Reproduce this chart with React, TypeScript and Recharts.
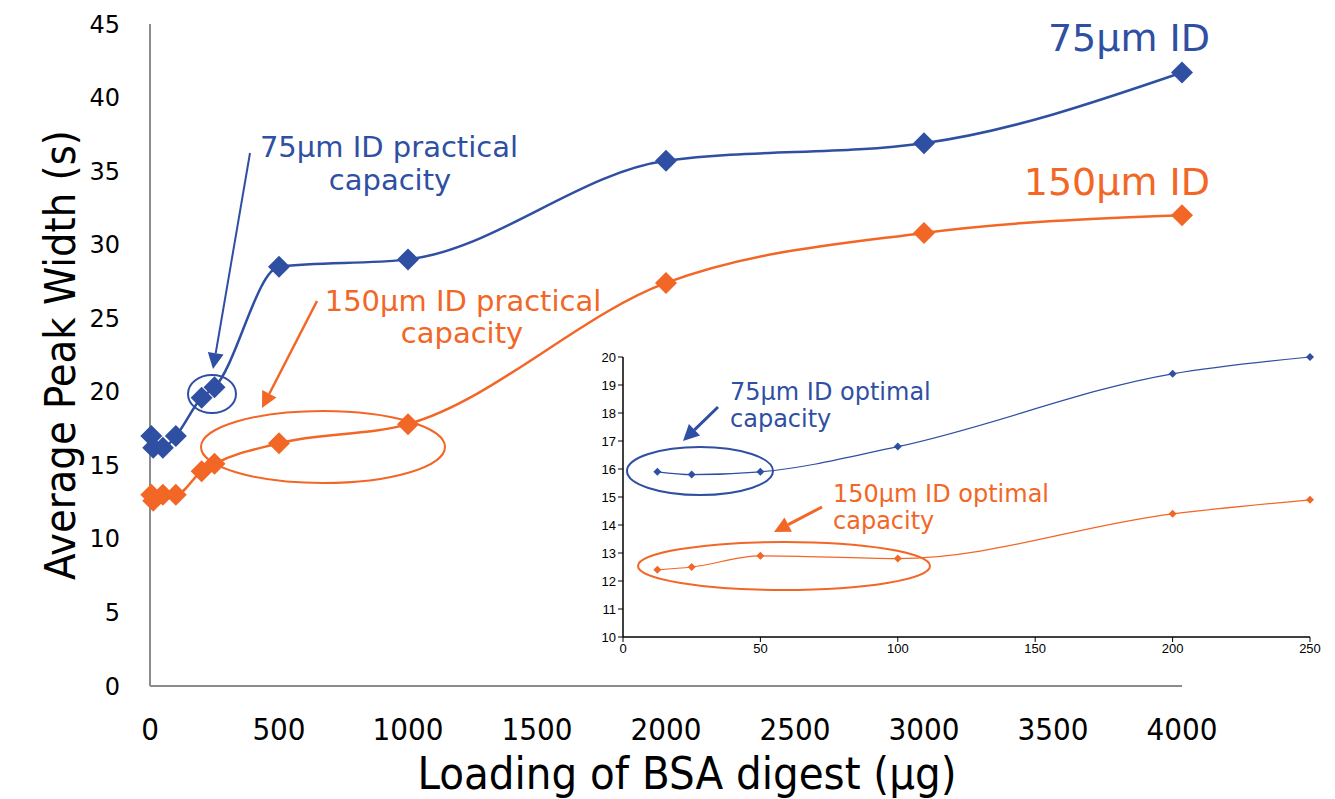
import React from "react";
import { LineChart, Line, XAxis, YAxis } from "recharts";

// Main chart: average peak width vs BSA digest load
const loads75 = [5, 12.5, 50, 100, 200, 250, 500, 1000, 2000, 3000, 4000];
const width75 = [17.0, 16.2, 16.2, 17.0, 19.6, 20.3, 28.5, 29.0, 35.7, 36.9, 41.7];
const loads150 = [5, 12.5, 50, 100, 200, 250, 500, 1000, 2000, 3000, 4000];
const width150 = [13.0, 12.6, 13.0, 13.0, 14.6, 15.1, 16.5, 17.8, 27.4, 30.8, 32.0];
const mainXTicks = [0, 500, 1000, 1500, 2000, 2500, 3000, 3500, 4000];
const mainYTicks = [0, 5, 10, 15, 20, 25, 30, 35, 40, 45];

// Inset: optimal capacity region (low loads)
const insetLoads = [12.5, 25, 50, 100, 200, 250];
const inset75 = [15.9, 15.8, 15.9, 16.8, 19.4, 20.0];
const inset150 = [12.4, 12.5, 12.9, 12.8, 14.4, 14.9];
const insetXTicks = [0, 50, 100, 150, 200, 250];
const insetYTicks = [10, 11, 12, 13, 14, 15, 16, 17, 18, 19, 20];

const BLUE = "#2f4fa3";
const ORANGE = "#f26626";
const AXIS_GRAY = "#8c8c8c";
const NARROW = "'Liberation Sans Narrow', 'DejaVu Sans Condensed', Arial, sans-serif";
const VERDANA = "'DejaVu Sans', Verdana, sans-serif";

const pairs = (xs: number[], ys: number[]) => xs.map((x, i) => ({ x, y: ys[i] }));

const data75 = pairs(loads75, width75);
const data150 = pairs(loads150, width150);
const insetData75 = pairs(insetLoads, inset75);
const insetData150 = pairs(insetLoads, inset150);

function diamond(r: number, color: string) {
    return (props: any) => {
        const { cx, cy, index } = props;
        if (cx == null || cy == null) return <g key={index} />;
        return (
            <polygon
                key={index}
                points={`${cx},${cy - r} ${cx + r},${cy} ${cx},${cy + r} ${cx - r},${cy}`}
                fill={color}
            />
        );
    };
}

function Arrow({ x1, y1, x2, y2, color, w, head }: any) {
    const dx = x2 - x1;
    const dy = y2 - y1;
    const len = Math.sqrt(dx * dx + dy * dy);
    const ux = dx / len;
    const uy = dy / len;
    const bx = x2 - ux * head;
    const by = y2 - uy * head;
    const hw = head * 0.5;
    return (
        <g>
            <line x1={x1} y1={y1} x2={bx} y2={by} stroke={color} strokeWidth={w} />
            <polygon
                points={`${x2},${y2} ${bx - uy * hw},${by + ux * hw} ${bx + uy * hw},${by - ux * hw}`}
                fill={color}
            />
        </g>
    );
}

export default function App() {
    return (
        <div style={{ position: "absolute", left: 0, top: 0, width: 1335, height: 799, background: "#fff" }}>
            {/* main chart */}
            <div style={{ position: "absolute", left: 0, top: 0 }}>
                <LineChart width={1335} height={799} margin={{ top: 24, right: 153, bottom: 0, left: 0 }}>
                    <XAxis
                        type="number"
                        dataKey="x"
                        domain={[0, 4000]}
                        ticks={mainXTicks}
                        height={113}
                        axisLine={{ stroke: AXIS_GRAY, strokeWidth: 2 }}
                        tickLine={false}
                        tick={{ fill: "#000", fontSize: 31, fontFamily: NARROW }}
                        tickMargin={26}
                    />
                    <YAxis
                        type="number"
                        dataKey="y"
                        domain={[0, 45]}
                        ticks={mainYTicks}
                        width={150}
                        axisLine={{ stroke: AXIS_GRAY, strokeWidth: 2 }}
                        tickLine={false}
                        tick={{ fill: "#000", fontSize: 24, fontFamily: VERDANA }}
                        tickMargin={24}
                    />
                    <Line
                        data={data75}
                        dataKey="y"
                        type="monotone"
                        stroke={BLUE}
                        strokeWidth={2.5}
                        dot={diamond(11, BLUE)}
                        isAnimationActive={false}
                    />
                    <Line
                        data={data150}
                        dataKey="y"
                        type="monotone"
                        stroke={ORANGE}
                        strokeWidth={2.5}
                        dot={diamond(11, ORANGE)}
                        isAnimationActive={false}
                    />
                </LineChart>
            </div>

            {/* inset chart */}
            <div style={{ position: "absolute", left: 560, top: 345 }}>
                <LineChart width={770} height={330} margin={{ top: 12, right: 20, bottom: 0, left: 0 }}>
                    <XAxis
                        type="number"
                        dataKey="x"
                        domain={[0, 250]}
                        ticks={insetXTicks}
                        height={38}
                        axisLine={{ stroke: "#000", strokeWidth: 1.5 }}
                        tickLine={{ stroke: "#000" }}
                        tickSize={5}
                        tick={{ fill: "#000", fontSize: 13, fontFamily: "'Liberation Sans', Arial, sans-serif" }}
                    />
                    <YAxis
                        type="number"
                        dataKey="y"
                        domain={[10, 20]}
                        ticks={insetYTicks}
                        width={63}
                        axisLine={{ stroke: "#000", strokeWidth: 1.5 }}
                        tickLine={{ stroke: "#000" }}
                        tickSize={5}
                        tick={{ fill: "#000", fontSize: 13, fontFamily: "'Liberation Sans', Arial, sans-serif" }}
                    />
                    <Line
                        data={insetData75}
                        dataKey="y"
                        type="monotone"
                        stroke={BLUE}
                        strokeWidth={1.2}
                        dot={diamond(4, BLUE)}
                        isAnimationActive={false}
                    />
                    <Line
                        data={insetData150}
                        dataKey="y"
                        type="monotone"
                        stroke={ORANGE}
                        strokeWidth={1.2}
                        dot={diamond(4, ORANGE)}
                        isAnimationActive={false}
                    />
                </LineChart>
            </div>

            {/* titles and annotations */}
            <svg width={1335} height={799} style={{ position: "absolute", left: 0, top: 0, pointerEvents: "none" }}>
                <text x={687} y={789} textAnchor="middle" fontSize={45} fontFamily={NARROW} fill="#000">
                    Loading of BSA digest (µg)
                </text>
                <text
                    transform="translate(60,355) rotate(-90)"
                    textAnchor="middle"
                    dominantBaseline="central"
                    fontSize={43}
                    fontFamily={NARROW}
                    fill="#000"
                >
                    Average Peak Width (s)
                </text>

                <text x={1210} y={51} textAnchor="end" fontSize={38} fontFamily={VERDANA} fill={BLUE}>75µm ID</text>
                <text x={1210} y={195} textAnchor="end" fontSize={38} fontFamily={VERDANA} fill={ORANGE}>150µm ID</text>

                <g fontSize={29} fontFamily={VERDANA} textAnchor="middle">
                    <text x={389} y={157} fill={BLUE}>75µm ID practical</text>
                    <text x={390} y={190} fill={BLUE}>capacity</text>
                    <text x={463} y={311} fill={ORANGE}>150µm ID practical</text>
                    <text x={462} y={343} fill={ORANGE}>capacity</text>
                </g>
                <g fontSize={24} fontFamily={VERDANA}>
                    <text x={730} y={400} fill={BLUE}>75µm ID optimal</text>
                    <text x={730} y={427} fill={BLUE}>capacity</text>
                    <text x={833} y={502} fill={ORANGE}>150µm ID optimal</text>
                    <text x={833} y={529} fill={ORANGE}>capacity</text>
                </g>

                <ellipse cx={212} cy={394} rx={24} ry={19} fill="none" stroke={BLUE} strokeWidth={2} />
                <ellipse cx={323} cy={447} rx={122} ry={36} fill="none" stroke={ORANGE} strokeWidth={2} />
                <ellipse cx={700} cy={471} rx={73} ry={24} fill="none" stroke={BLUE} strokeWidth={2} />
                <ellipse cx={784} cy={566} rx={146} ry={24} fill="none" stroke={ORANGE} strokeWidth={2} />

                <Arrow x1={250} y1={153} x2={213} y2={369} color={BLUE} w={2} head={16} />
                <Arrow x1={317} y1={301} x2={262} y2={408} color={ORANGE} w={2.5} head={16} />
                <Arrow x1={718} y1={407} x2={683} y2={441} color={BLUE} w={3} head={16} />
                <Arrow x1={822} y1={507} x2={774} y2={532} color={ORANGE} w={3} head={16} />
            </svg>
        </div>
    );
}
